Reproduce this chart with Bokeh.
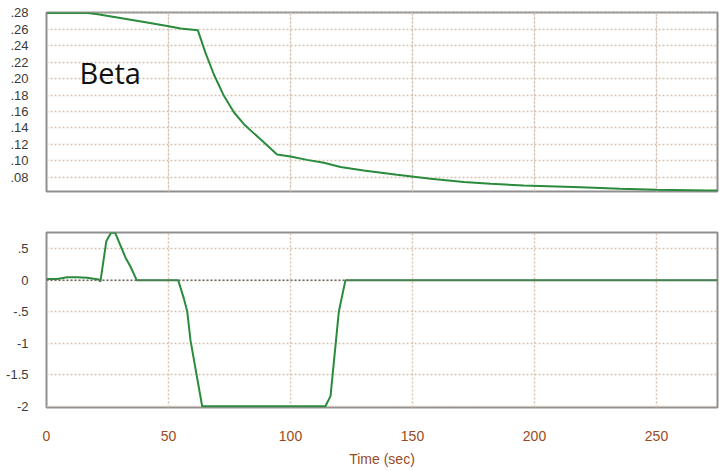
from bokeh.plotting import figure
from bokeh.layouts import column
from bokeh.models import Range1d, FixedTicker, Grid, Label, Span
from bokeh.embed import file_html
from bokeh.resources import INLINE

# ---- data ----
t_beta = [0, 17, 21, 29, 40, 49.5, 55, 62, 65.2, 68.6, 72.7, 76.8, 80.9, 87.7, 94.5,
          100, 106.8, 113.7, 120.5, 130, 143.7, 157.4, 171, 182, 195.5, 219, 235, 250, 271, 275]
beta = [0.28, 0.28, 0.2785, 0.2745, 0.269, 0.264, 0.261, 0.259, 0.231, 0.205, 0.179, 0.159,
        0.1445, 0.126, 0.1076, 0.105, 0.101, 0.0975, 0.0923, 0.088, 0.0828, 0.078, 0.074,
        0.072, 0.0698, 0.0678, 0.0658, 0.0646, 0.0637, 0.0637]

t_rate = [0, 4.4, 8.5, 12.6, 16.7, 21.4, 22.1, 24.5, 26.5, 28.2, 32.4, 34.4, 37.0, 54.0,
          56.3, 57.7, 59, 63.8, 114.3, 116.4, 119.8, 122.5, 275]
rate = [0.02, 0.02, 0.05, 0.05, 0.04, 0.015, -0.02, 0.62, 0.76, 0.75, 0.36, 0.22, 0.0, 0.0,
        -0.29, -0.5, -0.95, -2.0, -2.0, -1.84, -0.5, 0.0, 0.0]

x_ticks = [0, 50, 100, 150, 200, 250]
top_ticks = [0.08, 0.10, 0.12, 0.14, 0.16, 0.18, 0.20, 0.22, 0.24, 0.26, 0.28]
top_labels = [".08", ".10", ".12", ".14", ".16", ".18", ".20", ".22", ".24", ".26", ".28"]
bot_ticks = [-2, -1.5, -1, -0.5, 0, 0.5]
bot_labels = ["-2", "-1.5", "-1", "-.5", "0", ".5"]

LINE = "#2a8b3c"
GRID = "#d6c2b2"
FRAME = "#8f8f8f"
YLAB = "#3a3a3a"
XLAB = "#9a4a22"

# ---- top figure ----
p1 = figure(width=719, height=212, output_backend="svg", toolbar_location=None,
            x_range=Range1d(0, 275), y_range=Range1d(0.0625, 0.2805),
            x_axis_location=None, min_border_left=46, min_border_right=2,
            min_border_top=12, min_border_bottom=21)
p1.outline_line_color = FRAME
p1.outline_line_width = 2
p1.yaxis.ticker = FixedTicker(ticks=top_ticks)
p1.yaxis.major_label_overrides = {t: l for t, l in zip(top_ticks, top_labels)}
p1.yaxis.axis_line_color = None
p1.yaxis.major_tick_line_color = None
p1.yaxis.minor_tick_line_color = None
p1.yaxis.major_label_standoff = 12
p1.yaxis.major_label_text_font = "Liberation Sans"
p1.yaxis.major_label_text_font_size = "13px"
p1.yaxis.major_label_text_color = YLAB
p1.ygrid.grid_line_color = GRID
p1.ygrid.grid_line_dash = "2 2"
p1.ygrid.grid_line_width = 1.5
p1.add_layout(Grid(dimension=0, ticker=FixedTicker(ticks=x_ticks[1:]),
                   grid_line_color=GRID, grid_line_dash="2 2", grid_line_width=1.5))
p1.line(t_beta, beta, line_color=LINE, line_width=2)
p1.add_layout(Label(x=13.5, y=0.208, text="Beta", text_font="Open Sans",
                    text_font_size="29px", text_color="#111111",
                    text_baseline="alphabetic"))

# ---- bottom figure ----
p2 = figure(width=719, height=259, output_backend="svg", toolbar_location=None,
            x_range=Range1d(0, 275), y_range=Range1d(-2.02, 0.76),
            min_border_left=46, min_border_right=2, min_border_top=20,
            min_border_bottom=64)
p2.outline_line_color = FRAME
p2.outline_line_width = 2
p2.yaxis.ticker = FixedTicker(ticks=bot_ticks)
p2.yaxis.major_label_overrides = {t: l for t, l in zip(bot_ticks, bot_labels)}
p2.xaxis.ticker = FixedTicker(ticks=x_ticks)
for ax in (p2.xaxis, p2.yaxis):
    ax.axis_line_color = None
    ax.major_tick_line_color = None
    ax.minor_tick_line_color = None
p2.yaxis.major_label_standoff = 12
p2.yaxis.major_label_text_font = "Liberation Sans"
p2.yaxis.major_label_text_font_size = "13px"
p2.yaxis.major_label_text_color = YLAB
p2.xaxis.major_label_standoff = 17
p2.xaxis.major_label_text_font = "Liberation Sans"
p2.xaxis.major_label_text_font_size = "14px"
p2.xaxis.major_label_text_color = XLAB
p2.xaxis.axis_label = "Time (sec)"
p2.xaxis.axis_label_text_font = "Liberation Sans"
p2.xaxis.axis_label_text_font_style = "normal"
p2.xaxis.axis_label_text_font_size = "14px"
p2.xaxis.axis_label_text_color = XLAB
p2.xaxis.axis_label_standoff = 7
p2.ygrid.grid_line_color = GRID
p2.ygrid.grid_line_dash = "2 2"
p2.ygrid.grid_line_width = 1.5
p2.xgrid.ticker = FixedTicker(ticks=x_ticks[1:])
p2.xgrid.grid_line_color = GRID
p2.xgrid.grid_line_dash = "2 2"
p2.xgrid.grid_line_width = 1.5
p2.add_layout(Span(location=0, dimension="width", line_color="#6e6e6e",
                   line_dash="2 2", line_width=1.5))
p2.line(t_rate, rate, line_color=LINE, line_width=2)

layout = column(p1, p2, spacing=0)
open("out.html", "w").write(file_html(layout, INLINE))
